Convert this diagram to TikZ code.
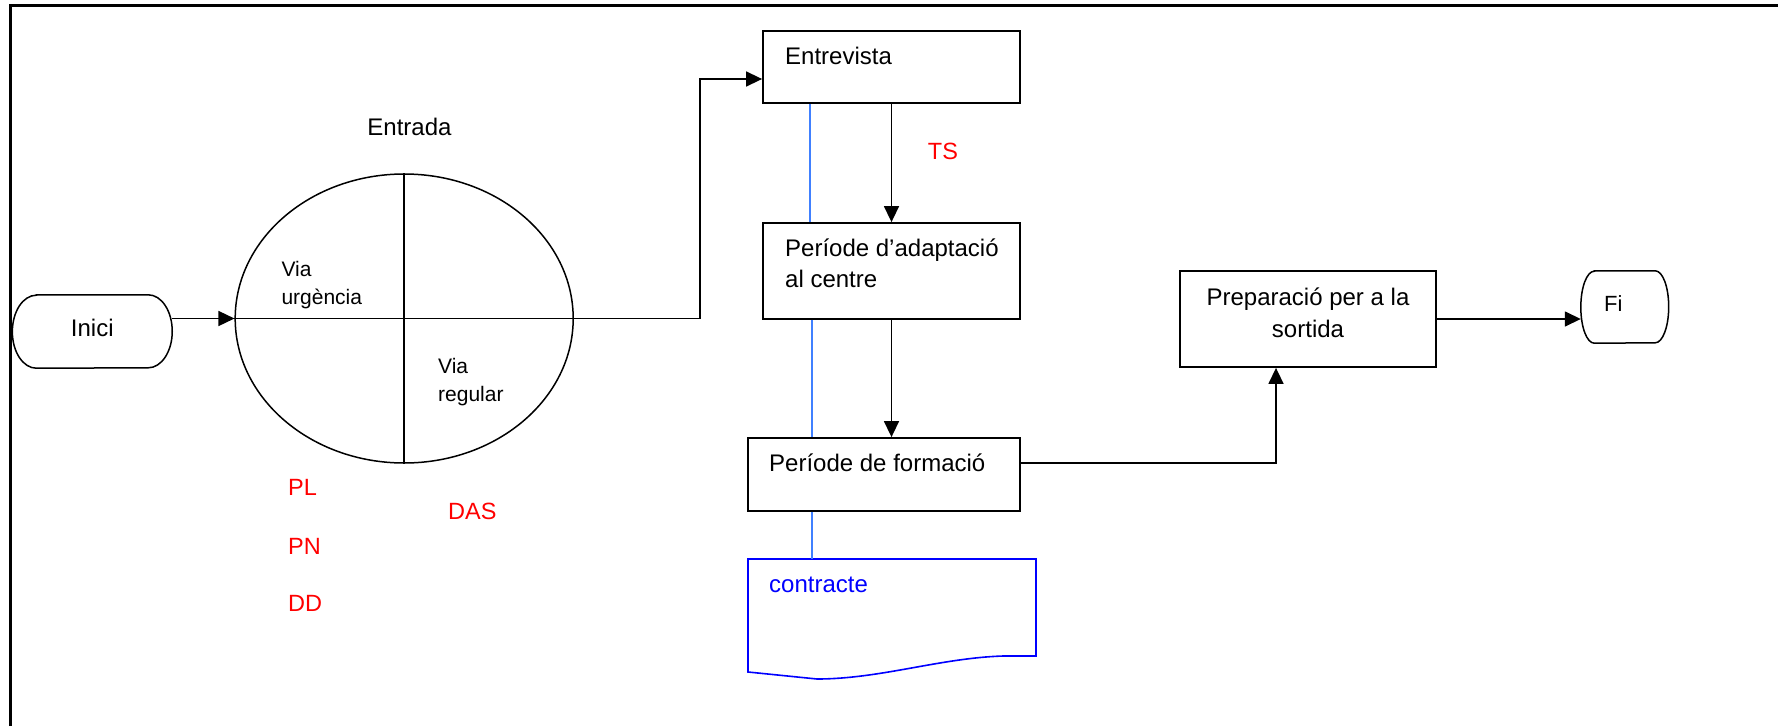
\documentclass[tikz,border=0pt]{standalone}
\usepackage{fontspec}
\setmainfont{Liberation Sans}
\usetikzlibrary{arrows.meta,shapes.geometric}
\definecolor{lblue}{RGB}{64,128,255}
\begin{document}
\begin{tikzpicture}[x=1pt,y=-1pt,
  box/.style={draw,line width=1.8pt,rectangle,inner sep=0pt},
  termarea/.style={rectangle,inner sep=0pt},
  termline/.style={line width=1.5pt},
  conn/.style={line width=1.5pt},
  arr/.style={conn,-{Triangle[length=16pt,width=15pt]}},
  blink/.style={lblue,line width=1.3pt},
  txt/.style={inner sep=0pt,font=\fontsize{24}{28}\selectfont},
  smalltxt/.style={inner sep=0pt,font=\fontsize{21}{25}\selectfont},
  redlbl/.style={inner sep=0pt,text=red,font=\fontsize{23.5}{28}\selectfont,anchor=base west}
]
\useasboundingbox (0,0) rectangle (1778,726);
% frame
\draw[line width=2.5pt] (10.5,726) -- (10.5,5.5) -- (1778,5.5);

% terminals
\node[termarea, minimum width=159.5pt, minimum height=73pt] (inici) at (92.3,331.5) {};
\draw[termline] ([xshift=24pt]inici.north west) -- ([xshift=-24pt]inici.north east)
  arc[start angle=90, end angle=-90, x radius=24pt, y radius=36.5pt]
  -- ([xshift=24pt]inici.south west)
  arc[start angle=270, end angle=90, x radius=24pt, y radius=36.5pt] -- cycle;
\node[txt,anchor=base] (iniciT) at (92.3,336) {Inici};

\node[termarea, minimum width=87.5pt, minimum height=72pt] (fi) at (1624.75,307) {};
\draw[termline] ([xshift=13.5pt]fi.north west) -- ([xshift=-13.5pt]fi.north east)
  arc[start angle=90, end angle=-90, x radius=13.5pt, y radius=36pt]
  -- ([xshift=13.5pt]fi.south west)
  arc[start angle=270, end angle=90, x radius=13.5pt, y radius=36pt] -- cycle;
\node[txt,anchor=base west,font=\fontsize{22}{26}\selectfont] (fiT) at (1604,311.7) {Fi};

% entrada ellipse
\node[draw, ellipse, line width=1.5pt, minimum width=338pt, minimum height=289pt, inner sep=0pt] (entrada) at (404.2,318.5) {};
\node[txt,anchor=base] (entradaT) at (409.5,135) {Entrada};
\draw[conn] (entrada.north) -- (entrada.south);
\node[smalltxt,anchor=base west] (urg1) at (281.3,276.7) {Via};
\node[smalltxt,anchor=base west] (urg2) at (281.3,304) {urgència};
\node[smalltxt,anchor=base west] (reg1) at (438,373) {Via};
\node[smalltxt,anchor=base west] (reg2) at (438,401) {regular};

% boxes
\node[box, minimum width=257pt, minimum height=72pt] (entrevista) at (891.5,67) {};
\node[box, minimum width=257pt, minimum height=96pt] (adapt) at (891.5,271) {};
\node[box, minimum width=272pt, minimum height=73pt] (formacio) at (884,474.5) {};
\node[box, minimum width=256pt, minimum height=96pt] (prep) at (1308,319) {};

\node[txt,anchor=base west] (entrevistaT) at (785,64) {Entrevista};
\node[txt,anchor=base west] (adaptT1) at (785,256) {Període d’adaptació};
\node[txt,anchor=base west] (adaptT2) at (785,287.3) {al centre};
\node[txt,anchor=base west] (formacioT) at (769,471.7) {Període de formació};
\node[txt,anchor=base] (prepT1) at (1308,305) {Preparació per a la};
\node[txt,anchor=base] (prepT2) at (1308,337.3) {sortida};

% document
\coordinate (docNW) at (748,559);
\draw[blue, line width=1.6pt] (docNW) -- (1036,559) -- (1036,656) -- (1003,656)
  .. controls (940,658) and (880,679) .. (817,679) -- (748,672) -- cycle;
\node[txt,anchor=base west,text=blue] (contracteT) at (769,592.3) {contracte};

% red labels
\node[redlbl] (ts) at (927.7,159.3) {TS};
\node[redlbl] (pl) at (288,495.7) {PL};
\node[redlbl] (pn) at (288,554) {PN};
\node[redlbl] (dd) at (288,611.7) {DD};
\node[redlbl] (das) at (448,519.3) {DAS};

% connectors
\coordinate (k1) at (700,318.5);
\coordinate (c2) at (1276,463);
\coordinate (bx1) at (810,0);
\coordinate (bx2) at (812,0);
\draw[arr] (inici.east |- entrada.west) -- (entrada.west);
\draw[arr] (entrada.west) -- (k1) |- ([yshift=-12pt]entrevista.west);
\draw[arr] (entrevista.south) -- (adapt.north);
\draw[arr] (adapt.south) -- (adapt.south |- formacio.north);
\draw[arr] (formacio.east |- c2) -- (c2) -- (c2 |- prep.south);
\draw[arr] (prep.east) -- (prep.east -| fi.west);

\draw[blink] (bx1 |- entrevista.south) -- (bx1 |- adapt.north);
\draw[blink] (bx2 |- adapt.south) -- (bx2 |- formacio.north);
\draw[blink] (bx2 |- formacio.south) -- (bx2 |- docNW);
\end{tikzpicture}
\end{document}
